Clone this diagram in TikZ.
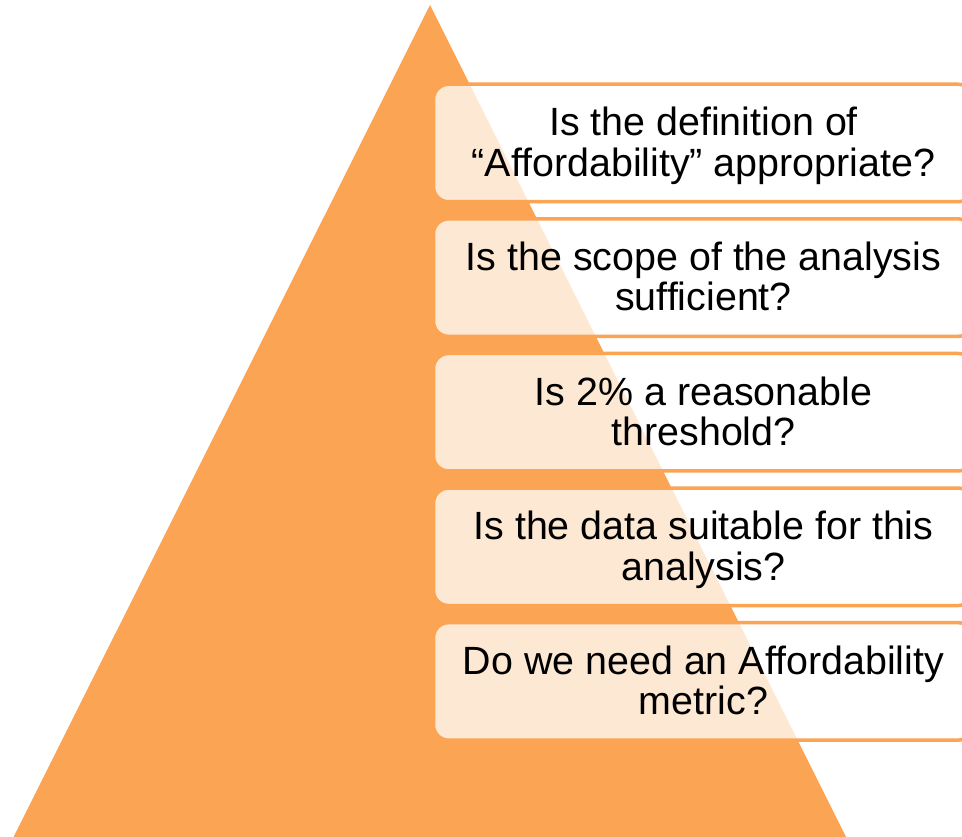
\documentclass[tikz,border=0pt]{standalone}
\usepackage{fontspec}
\setmainfont{Liberation Sans}
\definecolor{pyrorange}{RGB}{250,164,84}
\begin{document}
\begin{tikzpicture}[x=1pt,y=-1pt,
  qbox/.style={draw=pyrorange, line width=3.5pt, fill=white, fill opacity=0.75,
    rounded corners=15pt, inner sep=0pt, minimum width=539.5pt, minimum height=117.5pt},
  qline/.style={anchor=base, inner sep=0pt, text=black,
    font=\fontsize{39.4}{40.3}\selectfont}
]
\clip (0,0) rectangle (962,837);
\fill[white] (0,0) rectangle (962,837);

% pyramid
\fill[pyrorange] (430,5) coordinate (apex) -- (13.5,837) coordinate (bl) -- (846,837) coordinate (br) -- cycle;

% question boxes (the right edge runs past the page and is cut off)
\foreach \k in {1,...,5}{
  \pgfmathsetmacro{\yc}{143 + 134.6*(\k-1)}
  \node[qbox] (box\k) at (703.25,\yc) {};
}

% questions, one node per line
\path (703.5,136)   node[qline] (q1a) {Is the definition of}
      (703.5,176.3) node[qline] (q1b) {“Affordability” appropriate?};
\path (703.5,270.6) node[qline] (q2a) {Is the scope of the analysis}
      (703.5,310.9) node[qline] (q2b) {sufficient?};
\path (703.5,405.2) node[qline] (q3a) {Is 2\% a reasonable}
      (703.5,445.5) node[qline] (q3b) {threshold?};
\path (703.5,539.8) node[qline] (q4a) {Is the data suitable for this}
      (703.5,580.1) node[qline] (q4b) {analysis?};
\path (703.5,674.4) node[qline] (q5a) {Do we need an Affordability}
      (703.5,714.7) node[qline] (q5b) {metric?};
\end{tikzpicture}
\end{document}
